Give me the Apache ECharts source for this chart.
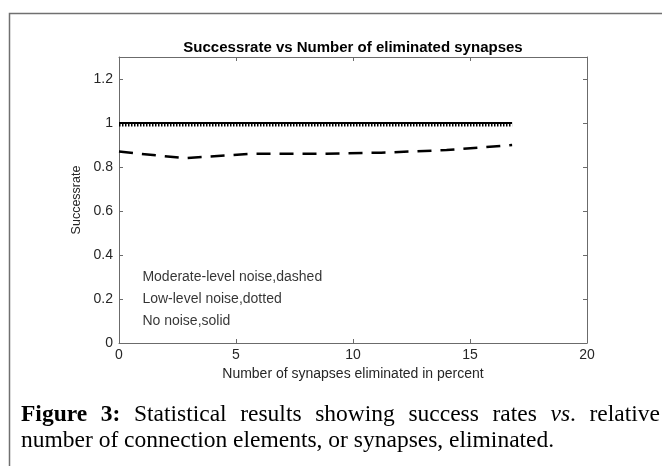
<!DOCTYPE html>
<html>
<head>
<meta charset="utf-8">
<script src="https://cdn.jsdelivr.net/npm/echarts@6/dist/echarts.min.js"></script>
<style>
  html, body { margin: 0; padding: 0; background: #fff; }
  #chart { width: 662px; height: 466px; }
</style>
</head>
<body>
<div id="chart"></div>
<script>
// percent of synapses eliminated
var xValues = [0, 2.8, 5.6, 8.4, 11.2, 14, 16.8];
// success rates per noise level
var noNoise = [1, 1, 1, 1, 1, 1, 1];
var lowNoise = [0.99, 0.99, 0.99, 0.99, 0.99, 0.99, 0.99];
var moderateNoise = [0.87, 0.84, 0.86, 0.86, 0.865, 0.877, 0.9];
// in-plot notes (data coords)
var noteTexts = ['Moderate-level noise,dashed', 'Low-level noise,dotted', 'No noise,solid'];
var noteX = [1, 1, 1];
var noteY = [0.3, 0.2, 0.1];
var xTicks = { min: 0, max: 20, step: 5 };
var yTicks = { min: 0, max: 1.3, step: 0.2 };

var sans = '"Liberation Sans", Arial, sans-serif';
var serif = '"Liberation Serif", "Times New Roman", serif';
var axisGrey = '#6b6b6b';
var labelCol = '#262626';
var fs = 14;

function pairs(xs, ys) {
    var out = [];
    for (var i = 0; i < xs.length; i++) out.push([xs[i], ys[i]]);
    return out;
}

// caption, first line justified like the paper
var capSize = 23.5;
var capLeft = 21, capRight = 660;
var line1 = [
    [['Figure', 'b']], [['3:', 'b']], [['Statistical', 'n']], [['results', 'n']],
    [['showing', 'n']], [['success', 'n']], [['rates', 'n']],
    [['vs', 'i'], ['.', 'n']], [['relative', 'n']]
];
var line2 = 'number of connection elements, or synapses, eliminated.';

var ctx = document.createElement('canvas').getContext('2d');
function measure(txt, key) {
    var w = key === 'b' ? 'bold' : 'normal';
    var s = key === 'i' ? 'italic' : 'normal';
    ctx.font = s + ' ' + w + ' ' + capSize + 'px ' + serif;
    return ctx.measureText(txt).width;
}
var capRich = {
    b: { fontFamily: serif, fontSize: capSize, fontWeight: 'bold', fill: '#000' },
    i: { fontFamily: serif, fontSize: capSize, fontStyle: 'italic', fill: '#000' },
    n: { fontFamily: serif, fontSize: capSize, fill: '#000' }
};

var widths = [], total = 0;
line1.forEach(function (tok) {
    var w = 0;
    tok.forEach(function (p) { w += measure(p[0], p[1]); });
    widths.push(w);
    total += w;
});
var gap = (capRight - capLeft - total) / (line1.length - 1);
var capGraphics = [];
var cx = capLeft;
line1.forEach(function (tok, i) {
    var str = tok.map(function (p) { return '{' + p[1] + '|' + p[0] + '}'; }).join('');
    capGraphics.push({
        type: 'text', x: cx, y: 415,
        style: { text: str, rich: capRich, align: 'left', verticalAlign: 'middle' }
    });
    cx += widths[i] + gap;
});
capGraphics.push({
    type: 'text', x: capLeft, y: 441,
    style: { text: line2, fontFamily: serif, fontSize: capSize, fill: '#000', align: 'left', verticalAlign: 'middle' }
});
// figure frame
capGraphics.push({
    type: 'rect', shape: { x: 9.5, y: 13.5, width: 700, height: 500 },
    style: { fill: 'none', stroke: '#707070', lineWidth: 1.5 }
});

var chart = echarts.init(document.getElementById('chart'));

function xAxisCfg(pos) {
    return {
        type: 'value', position: pos,
        min: xTicks.min, max: xTicks.max, interval: xTicks.step,
        axisLine: { show: true, onZero: false, lineStyle: { color: axisGrey, width: 1 } },
        axisTick: { show: true, inside: true, length: 4, lineStyle: { color: axisGrey } },
        axisLabel: { show: pos === 'bottom', color: labelCol, fontSize: fs, fontFamily: sans, margin: 5 },
        splitLine: { show: false }
    };
}
function yAxisCfg(pos) {
    return {
        type: 'value', position: pos,
        min: yTicks.min, max: yTicks.max, interval: yTicks.step,
        axisLine: { show: true, onZero: false, lineStyle: { color: axisGrey, width: 1 } },
        axisTick: { show: true, inside: true, length: 4, lineStyle: { color: axisGrey } },
        axisLabel: { show: pos === 'left', showMaxLabel: false, color: labelCol, fontSize: fs, fontFamily: sans, margin: 6 },
        splitLine: { show: false }
    };
}

var xBottom = xAxisCfg('bottom');
xBottom.name = 'Number of synapses eliminated in percent';
xBottom.nameLocation = 'middle';
xBottom.nameGap = 20;
xBottom.nameTextStyle = { color: labelCol, fontSize: fs, fontFamily: sans };

var yLeft = yAxisCfg('left');
yLeft.name = 'Successrate';
yLeft.nameLocation = 'middle';
yLeft.nameGap = 32;
yLeft.nameTextStyle = { color: labelCol, fontSize: 12.5, fontFamily: sans };

chart.setOption({
    animation: false,
    backgroundColor: '#fff',
    title: {
        text: 'Successrate vs Number of eliminated synapses',
        left: 353, top: 40, padding: 0, textAlign: 'center',
        textStyle: { color: '#000', fontSize: 15, fontWeight: 'bold', fontFamily: sans }
    },
    grid: { left: 119, right: 75, top: 57, bottom: 123 },
    xAxis: [xBottom, xAxisCfg('top')],
    yAxis: [yLeft, yAxisCfg('right')],
    series: [
        {
            name: 'Low-level noise', type: 'line', data: pairs(xValues, lowNoise),
            showSymbol: false, silent: true,
            lineStyle: { color: '#000', width: 2.5, type: [1.5, 1.5] }
        },
        {
            name: 'No noise', type: 'line', data: pairs(xValues, noNoise),
            showSymbol: false, silent: true,
            lineStyle: { color: '#000', width: 2 }
        },
        {
            name: 'Moderate-level noise', type: 'line', data: pairs(xValues, moderateNoise),
            showSymbol: false, silent: true,
            lineStyle: { color: '#000', width: 2.5, type: [14, 9] }
        },
        {
            name: 'notes', type: 'scatter', symbolSize: 0, silent: true,
            data: noteTexts.map(function (t, i) { return [noteX[i], noteY[i], t]; }),
            label: {
                show: true, position: 'right', distance: 0,
                formatter: function (p) { return p.data[2]; },
                color: '#000', fontSize: fs, fontFamily: sans
            }
        }
    ],
    graphic: capGraphics
});
</script>
</body>
</html>
